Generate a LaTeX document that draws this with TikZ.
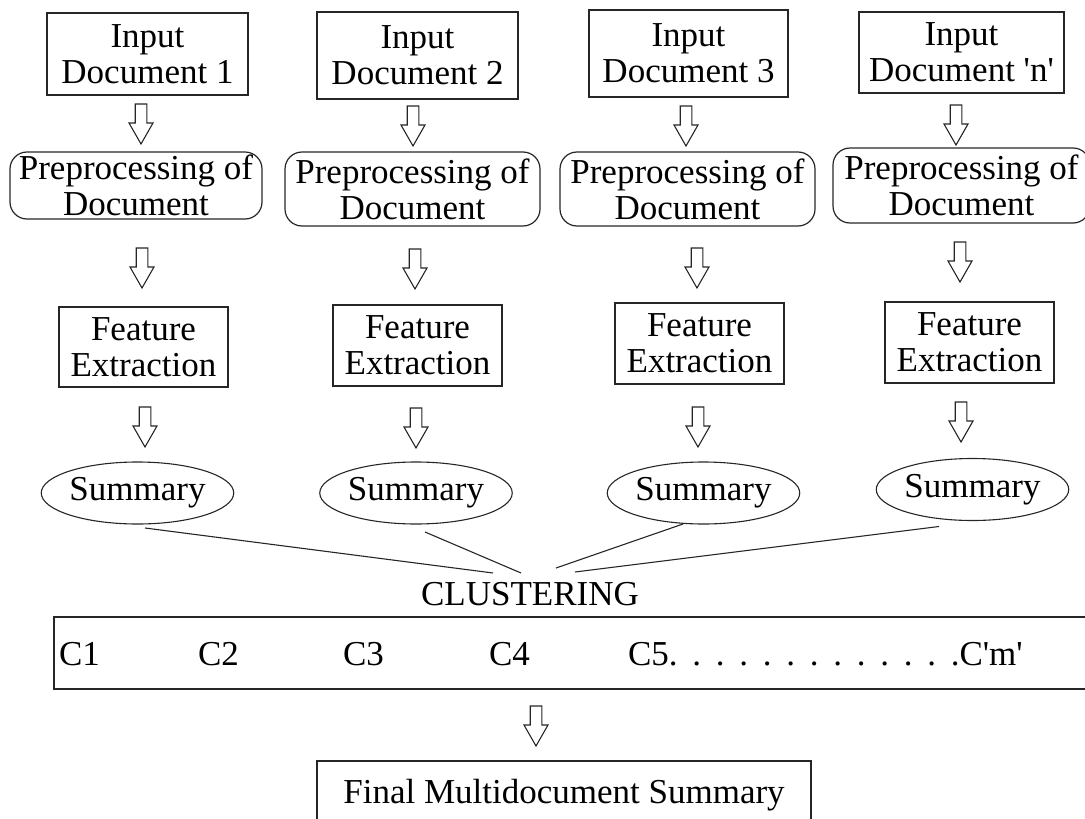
\documentclass[tikz,border=0pt]{standalone}
\usepackage{fontspec}
\newfontfamily\diagfont{Liberation Serif}
\usetikzlibrary{shapes.geometric}
% spacing between the leader dots in the cluster row
\newcommand\dotgap{\hspace{14.75pt}}

\begin{document}
\begin{tikzpicture}[x=1pt,y=-1pt,
  every node/.style={font=\diagfont\fontsize{35}{36}\selectfont, inner sep=0pt, outer sep=0pt},
  plainbox/.style={draw=black!85, line width=1.3pt, align=center},
  prepbox/.style={draw=black!85, line width=1.2pt, rounded corners=17pt, align=center},
  summ/.style={draw=black!85, line width=1.1pt, ellipse},
  link/.style={draw=black!85, line width=1.1pt},
  hollow/.style={draw=black!85, line width=1.1pt, fill=white, line join=miter},
  pics/downarrow/.style={code={
    \draw[hollow] (-5.8,0) -- (5.8,0) -- (5.8,19) -- (12,19) -- (0,40)
                  -- (-12,19) -- (-5.8,19) -- cycle;}}
]
\useasboundingbox (0,0) rectangle (1085,819);
\clip (0,0) rectangle (1085,819);

% input documents
\node[plainbox, minimum width=201, minimum height=82] (in1) at (147.5,54)   {Input\\Document 1};
\node[plainbox, minimum width=201, minimum height=87] (in2) at (417.5,55.5) {Input\\Document 2};
\node[plainbox, minimum width=199, minimum height=87] (in3) at (688.5,53.5) {Input\\Document 3};
\node[plainbox, minimum width=205, minimum height=81] (in4) at (961.5,52.5) {Input\\Document 'n'};

% preprocessing
\node[prepbox, minimum width=252, minimum height=67] (pp1) at (136,185.5)   {Preprocessing of\\Document};
\node[prepbox, minimum width=255, minimum height=74] (pp2) at (412.5,189)   {Preprocessing of\\Document};
\node[prepbox, minimum width=255, minimum height=74] (pp3) at (687.5,189)   {Preprocessing of\\Document};
\node[prepbox, minimum width=257, minimum height=75] (pp4) at (961.5,185.5) {Preprocessing of\\Document};

% feature extraction
\node[plainbox, minimum width=169, minimum height=80] (fe1) at (143.5,347)   {Feature\\Extraction};
\node[plainbox, minimum width=169, minimum height=81] (fe2) at (417.5,345.5) {Feature\\Extraction};
\node[plainbox, minimum width=169, minimum height=81] (fe3) at (699.5,343.5) {Feature\\Extraction};
\node[plainbox, minimum width=169, minimum height=81] (fe4) at (969.5,342.5) {Feature\\Extraction};

% summaries
\node[summ, minimum width=183, minimum height=62] (s1) at (137.5,493)  {Summary};
\node[summ, minimum width=182, minimum height=62] (s2) at (416,493)    {Summary};
\node[summ, minimum width=183, minimum height=62] (s3) at (703.5,493)  {Summary};
\node[summ, minimum width=181, minimum height=62] (s4) at (972.5,489.5) {Summary};

% hollow flow arrows
\pic at (141,104) {downarrow};
\pic at (413,106) {downarrow};
\pic at (686,106) {downarrow};
\pic at (956,105) {downarrow};
\pic at (142,248) {downarrow};
\pic at (415,249) {downarrow};
\pic at (697,248) {downarrow};
\pic at (960,242) {downarrow};
\pic at (145,407) {downarrow};
\pic at (416,408) {downarrow};
\pic at (698,407) {downarrow};
\pic at (961,402) {downarrow};

% clustering stage
\node (clus) at (530,594) {CLUSTERING};
\coordinate (j1) at (493,573);
\coordinate (j2) at (521,573);
\coordinate (j3) at (556,568);
\coordinate (j4) at (575,572);
\draw[link] ([shift={(7.5,4)}]s1.south) -- (j1);
\draw[link] ([shift={(9,8)}]s2.south) -- (j2);
\draw[link] ([shift={(-20.5,0)}]s3.south) -- (j3);
\draw[link] ([shift={(-33.5,6)}]s4.south) -- (j4);

% clusters
\node[plainbox, minimum width=1036, minimum height=72] (cbox) at (572,653) {};
\node[anchor=base west] (k1) at (59,665)  {C1};
\node[anchor=base west] (k2) at (198,665) {C2};
\node[anchor=base west] (k3) at (343,665) {C3};
\node[anchor=base west] (k4) at (489,665) {C4};
\node[anchor=base west] (k5) at (628,665)
  {C5.\dotgap.\dotgap.\dotgap.\dotgap.\dotgap.\dotgap.\dotgap.\dotgap.\dotgap.\dotgap.\dotgap.\dotgap.C'm'};

\pic at (536,706) {downarrow};

% result
\node[plainbox, minimum width=494, minimum height=68] (final) at (564,795) {Final Multidocument Summary};
\end{tikzpicture}
\end{document}
